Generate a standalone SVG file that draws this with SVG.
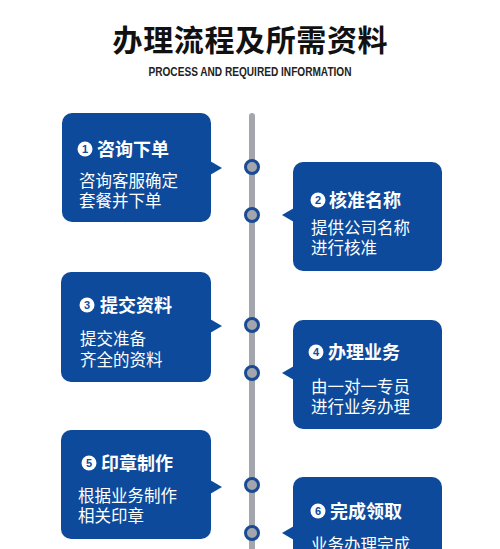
<svg xmlns="http://www.w3.org/2000/svg" width="500" height="549" viewBox="0 0 500 549">
<style>
.box{fill:#0d4a9b}
.h{font-family:"Noto Sans CJK SC","Noto Sans",sans-serif;font-weight:700;font-size:18px;fill:#fff}
.b{font-family:"Noto Sans CJK SC","Noto Sans",sans-serif;font-size:16.5px;fill:#fff}
.nc{fill:#fff}
.nt{font-family:"Liberation Sans",sans-serif;font-weight:700;font-size:11px;fill:#0d4a9b;text-anchor:middle}
.dot{fill:#a3a7ad;stroke:#1a4a93;stroke-width:3}
</style>
<rect width="500" height="549" fill="#fff"/>
<text x="250" y="51" text-anchor="middle" font-family="Noto Sans CJK SC, sans-serif" font-weight="700" font-size="30" fill="#111" textLength="275">办理流程及所需资料</text>
<text x="250" y="76" text-anchor="middle" font-family="Liberation Sans, sans-serif" font-weight="700" font-size="12.5" fill="#222" textLength="203" lengthAdjust="spacingAndGlyphs">PROCESS AND REQUIRED INFORMATION</text>
<g id="connectors">
<line x1="252" y1="116" x2="252" y2="552" stroke="#a3a7ad" stroke-width="6" stroke-linecap="round"/>
<circle class="dot" cx="252" cy="167" r="6.5"/>
<circle class="dot" cx="252" cy="215" r="6.5"/>
<circle class="dot" cx="252" cy="325" r="6.5"/>
<circle class="dot" cx="252" cy="373" r="6.5"/>
<circle class="dot" cx="252" cy="485" r="6.5"/>
<circle class="dot" cx="252" cy="533" r="6.5"/>
</g>
<g id="step1">
<rect class="box" x="62" y="113" width="149" height="109" rx="10"/>
<polygon class="box" points="210,161 222,168 210,175"/>
<circle class="nc" cx="85" cy="149" r="7.5"/><text class="nt" x="85" y="153">1</text>
<text class="h" x="97" y="156">咨询下单</text>
<text class="b" x="79" y="187">咨询客服确定</text>
<text class="b" x="79" y="207">套餐并下单</text>
</g>
<g id="step2">
<rect class="box" x="293" y="162" width="149" height="109" rx="10"/>
<polygon class="box" points="294,208 282,215 294,222"/>
<circle class="nc" cx="318" cy="200" r="7.5"/><text class="nt" x="318" y="204">2</text>
<text class="h" x="329" y="207">核准名称</text>
<text class="b" x="311" y="234">提供公司名称</text>
<text class="b" x="311" y="254">进行核准</text>
</g>
<g id="step3">
<rect class="box" x="61" y="272" width="150" height="110" rx="10"/>
<polygon class="box" points="210,319 222,326 210,333"/>
<circle class="nc" cx="87" cy="305" r="7.5"/><text class="nt" x="87" y="309">3</text>
<text class="h" x="100" y="312">提交资料</text>
<text class="b" x="80" y="345">提交准备</text>
<text class="b" x="80" y="366">齐全的资料</text>
</g>
<g id="step4">
<rect class="box" x="293" y="320" width="149" height="109" rx="10"/>
<polygon class="box" points="294,366 282,373 294,380"/>
<circle class="nc" cx="316" cy="352" r="7.5"/><text class="nt" x="316" y="356">4</text>
<text class="h" x="328" y="359">办理业务</text>
<text class="b" x="311" y="393">由一对一专员</text>
<text class="b" x="311" y="413">进行业务办理</text>
</g>
<g id="step5">
<rect class="box" x="61" y="430" width="150" height="109" rx="10"/>
<polygon class="box" points="210,480 222,487 210,494"/>
<circle class="nc" cx="89" cy="463" r="7.5"/><text class="nt" x="89" y="467">5</text>
<text class="h" x="101" y="470">印章制作</text>
<text class="b" x="78" y="502">根据业务制作</text>
<text class="b" x="78" y="522">相关印章</text>
</g>
<g id="step6">
<rect class="box" x="293" y="477" width="149" height="100" rx="10"/>
<polygon class="box" points="294,526 282,533 294,540"/>
<circle class="nc" cx="318" cy="511" r="7.5"/><text class="nt" x="318" y="515">6</text>
<text class="h" x="330" y="518">完成领取</text>
<text class="b" x="311" y="551">业务办理完成</text>
</g>
</svg>
